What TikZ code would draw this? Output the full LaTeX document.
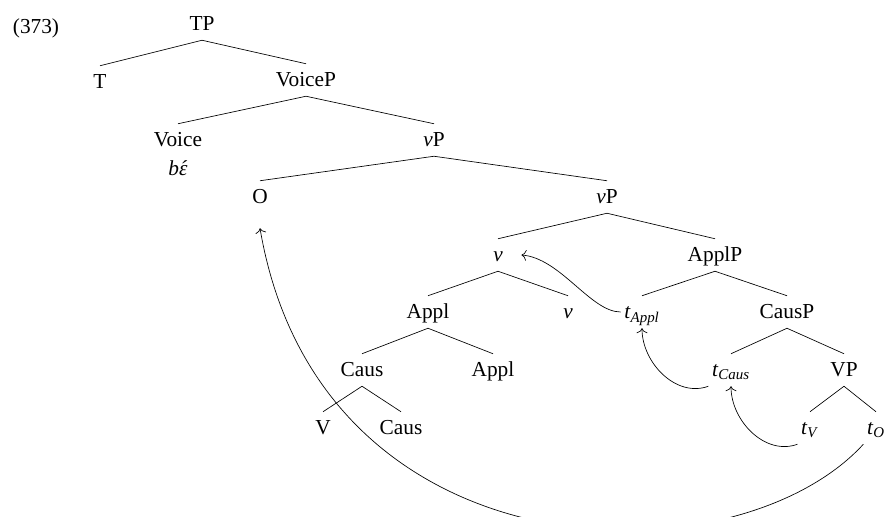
\documentclass[tikz,border=0pt]{standalone}
\usepackage{fontspec}
\setmainfont{Liberation Serif}
\usetikzlibrary{arrows.meta}

\tikzset{
  cat/.style={inner sep=2pt, text height=11.5pt, text depth=3.6pt,
    font=\fontsize{12.8}{15}\selectfont},
  mv/.style={-{To[length=3pt,width=6.5pt]}, thin},
}
\newcommand{\trace}[1]{\textit{t}\textsubscript{\textit{#1}}}

\begin{document}
\begin{tikzpicture}[x=0.6pt, y=0.6pt, every node/.style={cat}]
  \useasboundingbox (0,0) rectangle (887,-517);
  % example number
  \node (ex) at (36,-27) {(373)};
  % categories, level by level
  \node (TP)     at (202,-24)  {TP};
  \node (T)      at (100,-82)  {T};
  \node (VoiceP) at (306,-80)  {VoiceP};
  \node (Voice)  at (178,-140) {Voice};
  \node (be)     at (178,-169) {\itshape b\accent"B4 ɛ};
  \node (vP1)    at (434,-140) {\textit{v}P};
  \node (O)      at (260,-197) {O};
  \node (vP2)    at (607,-197) {\textit{v}P};
  \node (v1)     at (498,-255) {\textit{v}};
  \node (ApplP)  at (715,-255) {ApplP};
  \node (Appl1)  at (428,-312) {Appl};
  \node (v2)     at (568,-312) {\textit{v}};
  \node (tAppl)  at (642,-312) {\trace{Appl}};
  \node (CausP)  at (787,-312) {CausP};
  \node (Caus1)  at (362,-370) {Caus};
  \node (Appl2)  at (493,-370) {Appl};
  \node (tCaus)  at (731,-370) {\trace{Caus}};
  \node (VP)     at (844,-370) {VP};
  \node (V)      at (323,-428) {V};
  \node (Caus2)  at (401,-428) {Caus};
  \node (tV)     at (810,-428) {\trace{V}};
  \node (tO)     at (876,-428) {\trace{O}};
  % branches
  \foreach \m/\d in {TP/T, TP/VoiceP, VoiceP/Voice, VoiceP/vP1, vP1/O, vP1/vP2,
      vP2/v1, vP2/ApplP, v1/Appl1, v1/v2, Appl1/Caus1, Appl1/Appl2,
      Caus1/V, Caus1/Caus2, ApplP/tAppl, ApplP/CausP, CausP/tCaus, CausP/VP,
      VP/tV, VP/tO}
    \draw (\m.south) -- (\d.north);
  % movement
  \draw[mv] (tO.south west) .. controls +(-128,-140) and +(60,-352) .. ([yshift=-9pt]O.south);
  \draw[mv] (tV.south west) to[out=200,in=-90] (tCaus.south);
  \draw[mv] (tCaus.south west) to[out=200,in=-90] (tAppl.south);
  \draw[mv] (tAppl.west) .. controls +(-30,0) and +(39,-3) .. ([xshift=9pt]v1.east);
\end{tikzpicture}
\end{document}
